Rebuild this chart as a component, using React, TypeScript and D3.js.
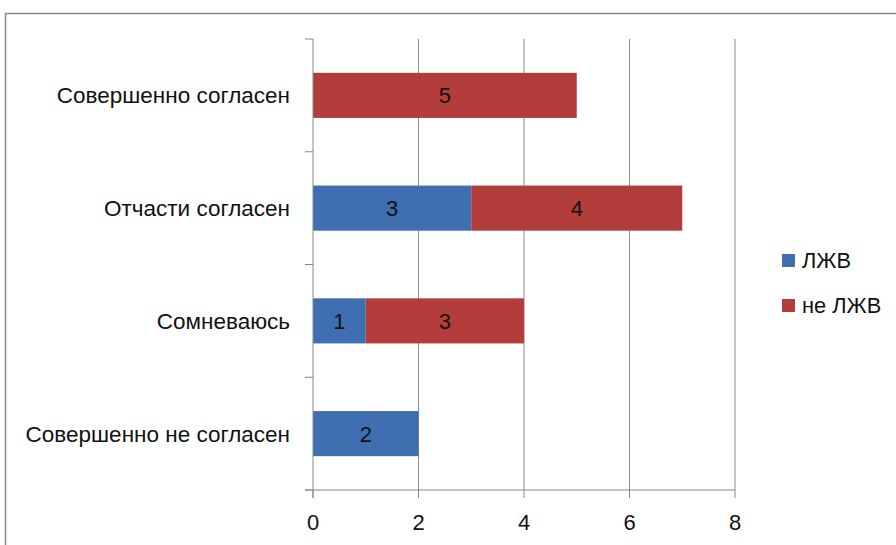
import React from "react";
import * as d3 from "d3";

const categories = ["Совершенно согласен", "Отчасти согласен", "Сомневаюсь", "Совершенно не согласен"];
const seriesNames = ["ЛЖВ", "не ЛЖВ"];
const lzhvValues = [0, 3, 1, 2];
const neLzhvValues = [5, 4, 3, 0];
const xTicks = [0, 2, 4, 6, 8];
const colors = ["#3F6EB1", "#B33D3B"];

const W = 896, H = 545;
const FONT = "'Liberation Sans', Arial, sans-serif";

export default function App() {
  const x = d3.scaleLinear().domain([0, 8]).range([313, 735]);
  const y = d3.scaleBand<string>().domain(categories).range([39, 490]).paddingInner(0.6).paddingOuter(0.3);
  const step = y.step();
  const rows = categories.map((c, i) => ({ c, vals: [lzhvValues[i], neLzhvValues[i]] }));
  const boundaries = d3.range(categories.length + 1).map((i) => 39 + i * step);
  const axisColor = "#878787";

  return (
    <svg width={W} height={H} style={{ position: "absolute", left: 0, top: 0, background: "#fff" }} fontFamily={FONT}>
      <rect x={5.5} y={13.5} width={1000} height={1000} fill="#fff" stroke="#878787" strokeWidth={1.5} />
      {xTicks.filter((t) => t > 0).map((t) => (
        <line key={"g" + t} x1={x(t)} x2={x(t)} y1={39} y2={490} stroke="#8c8c8c" strokeWidth={1} />
      ))}
      {rows.map((r) => {
        let acc = 0;
        return r.vals.map((v, si) => {
          const x0 = acc;
          acc += v;
          if (v === 0) return null;
          const yy = y(r.c)!;
          return (
            <g key={r.c + si}>
              <rect x={x(x0)} y={yy} width={x(x0 + v) - x(x0)} height={y.bandwidth()} fill={colors[si]} />
              <text x={(x(x0) + x(x0 + v)) / 2} y={yy + y.bandwidth() / 2} dy="0.36em" textAnchor="middle" fontSize={22} fill="#111">
                {v}
              </text>
            </g>
          );
        });
      })}
      <line x1={313} x2={313} y1={39} y2={498} stroke={axisColor} strokeWidth={1} />
      <line x1={305} x2={735} y1={490} y2={490} stroke={axisColor} strokeWidth={1} />
      {boundaries.map((b, i) => (
        <line key={"yt" + i} x1={305} x2={313} y1={b} y2={b} stroke={axisColor} strokeWidth={1} />
      ))}
      {xTicks.map((t) => (
        <g key={"xt" + t}>
          <line x1={x(t)} x2={x(t)} y1={490} y2={498} stroke={axisColor} strokeWidth={1} />
          <text x={x(t)} y={522} dy="0.36em" textAnchor="middle" fontSize={22} fill="#111">{t}</text>
        </g>
      ))}
      {categories.map((c) => (
        <text key={c} x={290} y={y(c)! + y.bandwidth() / 2} dy="0.36em" textAnchor="end" fontSize={22.5} fill="#111">{c}</text>
      ))}
      {seriesNames.map((s, i) => (
        <g key={s} transform={`translate(782, ${254 + i * 45})`}>
          <rect x={0} y={0} width={13} height={13} fill={colors[i]} />
          <text x={20} y={6.5} dy="0.36em" fontSize={21.8} fill="#111">{s}</text>
        </g>
      ))}
    </svg>
  );
}
